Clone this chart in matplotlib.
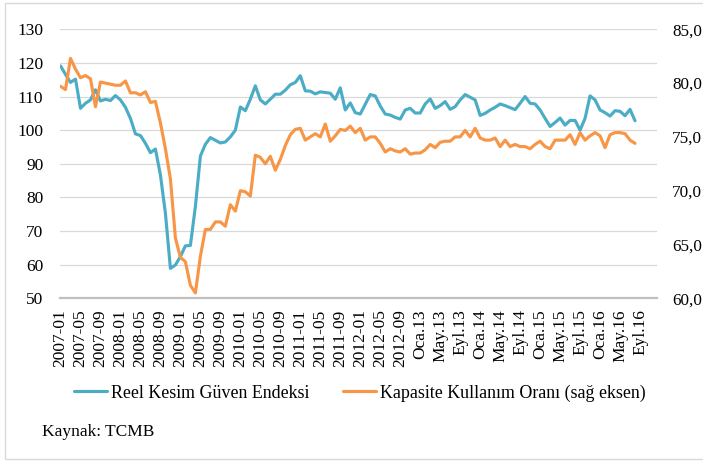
import numpy as np
import matplotlib
matplotlib.use("Agg")
import matplotlib.pyplot as plt
from matplotlib.patches import Rectangle

plt.rcParams['font.family'] = ['Liberation Serif', 'DejaVu Serif']

# aylik veriler, 2007-01 .. 2016-08
reel_kesim = [
    119.1, 116.6, 114.2, 115.2, 106.5, 108.0, 109.0, 112.0, 108.7, 109.2,
    108.8, 110.3, 109.0, 106.8, 103.5, 98.9, 98.4, 96.1, 93.3, 94.4,
    86.7, 75.3, 58.9, 59.9, 62.4, 65.6, 65.7, 77.3, 92.3, 95.8,
    97.8, 97.0, 96.2, 96.5, 98.0, 100.0, 106.9, 105.8, 109.2, 113.2,
    109.0, 107.8, 109.2, 110.7, 110.7, 111.9, 113.5, 114.2, 116.2, 111.7,
    111.6, 110.8, 111.4, 111.2, 111.0, 109.2, 112.6, 106.0, 108.1, 105.2,
    104.8, 107.7, 110.6, 110.2, 107.2, 104.8, 104.5, 103.8, 103.3, 106.0,
    106.5, 105.1, 105.1, 107.8, 109.3, 106.5, 107.3, 108.5, 106.2, 107.0,
    109.0, 110.6, 109.8, 109.0, 104.4, 105.0, 106.0, 106.8, 107.8, 107.3,
    106.7, 106.1, 108.0, 110.0, 108.0, 107.8, 106.0, 103.5, 101.1, 102.3,
    103.6, 101.5, 102.9, 102.9, 100.0, 103.5, 110.2, 109.0, 106.0, 105.2,
    104.2, 105.8, 105.6, 104.3, 106.2, 102.8]

kapasite = [
    79.7, 79.4, 82.3, 81.3, 80.5, 80.7, 80.4, 77.8, 80.1, 80.0,
    79.9, 79.8, 79.8, 80.2, 79.1, 79.1, 78.9, 79.2, 78.2, 78.3,
    76.3, 73.9, 71.1, 65.6, 63.8, 63.4, 61.2, 60.5, 63.9, 66.4,
    66.4, 67.1, 67.1, 66.7, 68.7, 68.1, 70.0, 69.9, 69.5, 73.3,
    73.1, 72.5, 73.2, 71.9, 72.9, 74.2, 75.2, 75.7, 75.8, 74.7,
    75.0, 75.3, 75.0, 76.2, 74.6, 75.1, 75.7, 75.6, 76.0, 75.4,
    75.8, 74.7, 75.0, 75.0, 74.4, 73.6, 73.9, 73.7, 73.6, 73.9,
    73.4, 73.5, 73.5, 73.8, 74.3, 74.0, 74.5, 74.6, 74.6, 75.0,
    75.0, 75.6, 75.0, 75.8, 74.9, 74.7, 74.7, 74.9, 74.1, 74.7,
    74.1, 74.3, 74.1, 74.1, 73.9, 74.3, 74.6, 74.1, 73.9, 74.7,
    74.7, 74.7, 75.2, 74.3, 75.4, 74.7, 75.1, 75.4, 75.1, 74.0,
    75.2, 75.4, 75.4, 75.3, 74.7, 74.4]

x_labels = ["2007-01", "2007-05", "2007-09", "2008-01", "2008-05", "2008-09",
            "2009-01", "2009-05", "2009-09", "2010-01", "2010-05", "2010-09",
            "2011-01", "2011-05", "2011-09", "2012-01", "2012-05", "2012-09",
            "Oca.13", "May.13", "Eyl.13", "Oca.14", "May.14", "Eyl.14",
            "Oca.15", "May.15", "Eyl.15", "Oca.16", "May.16", "Eyl.16"]

left_ticks = [50, 60, 70, 80, 90, 100, 110, 120, 130]
right_ticks = [60, 65, 70, 75, 80, 85]
right_labels = ["60,0", "65,0", "70,0", "75,0", "80,0", "85,0"]

W, H = 703, 461
fig = plt.figure(figsize=(W / 100, H / 100), dpi=100)
ax = fig.add_axes([60 / W, 1 - 298.3 / H, 597 / W, 269 / H])
ax2 = ax.twinx()

x = np.arange(len(reel_kesim))
l1, = ax.plot(x, reel_kesim, color="#4bacc6", lw=2.25,
              solid_joinstyle="round", solid_capstyle="round")
l2, = ax2.plot(x, kapasite, color="#f79646", lw=2.25,
               solid_joinstyle="round", solid_capstyle="round")

ax.set_xlim(-0.1, 119.4)
ax.set_ylim(50, 130)
ax2.set_ylim(60, 85)

ax.set_yticks(left_ticks)
ax.grid(axis="y", color="#d9d9d9", lw=0.9)
ax.set_axisbelow(True)
ax.set_xticks(np.arange(0, 4 * len(x_labels), 4))
ax.set_xticklabels(x_labels, rotation=90)

ax2.set_yticks(right_ticks)
ax2.set_yticklabels(right_labels)

for a in (ax, ax2):
    for s in ("top", "left", "right", "bottom"):
        a.spines[s].set_visible(False)
ax.spines["bottom"].set_visible(True)
ax.spines["bottom"].set_color("#bfbfbf")
ax.spines["bottom"].set_linewidth(1.6)

ax.tick_params(axis="y", length=0, labelsize=12.5, pad=12)
ax.tick_params(axis="x", length=0, labelsize=12.5, pad=8)
ax2.tick_params(axis="y", length=0, labelsize=12.3, pad=11)

fig.legend([l1, l2], ["Reel Kesim Güven Endeksi", "Kapasite Kullanım Oranı (sağ eksen)"],
           loc="center", bbox_to_anchor=(0.512, 1 - 393 / H), ncol=2, frameon=False,
           fontsize=12.9, handlelength=1.85, handletextpad=0.2, columnspacing=1.9)

fig.text(42 / W, 1 - 432 / H, "Kaynak: TCMB", fontsize=12.5, va="center", ha="left")

# cerceve (sag kenar resmin disinda)
fig.add_artist(Rectangle((5 / W, 2 / H), 705 / W, 456 / H, transform=fig.transFigure,
                         fill=False, edgecolor="#d9d9d9", lw=1))

fig.savefig("out.png", dpi=100)
